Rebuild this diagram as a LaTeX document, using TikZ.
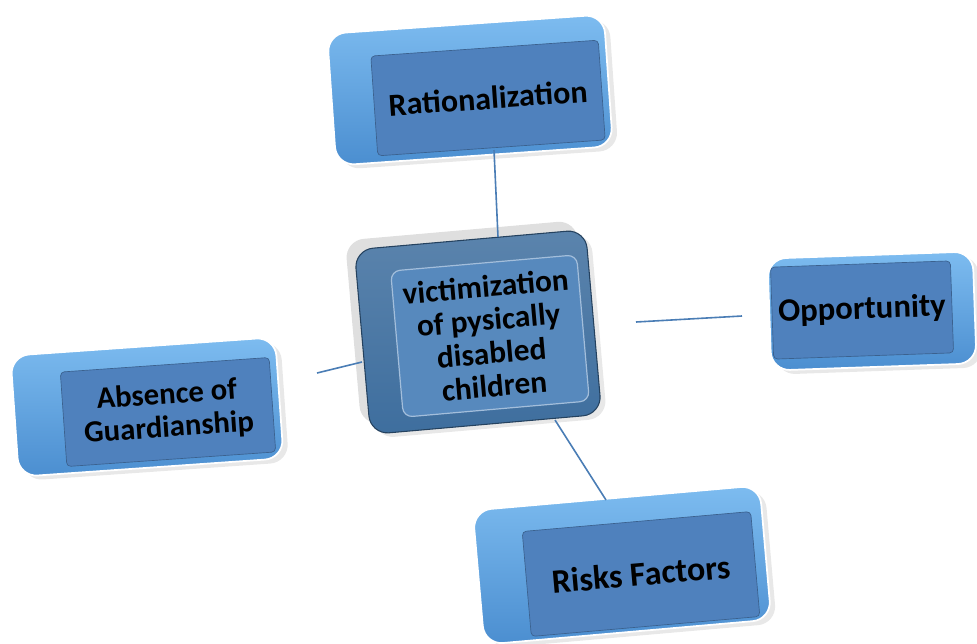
\documentclass[tikz,border=0pt]{standalone}
\usepackage{fontspec}
\setmainfont{Carlito}
\usetikzlibrary{shadows}
\definecolor{facebl}{HTML}{4F81BD}
\definecolor{bevtop}{HTML}{7DBCF0}
\definecolor{bevbot}{HTML}{4B8ED0}
\definecolor{hubbody}{HTML}{3E6E9E}
\definecolor{hubface}{HTML}{5789BD}
\definecolor{linebl}{HTML}{4A7DB5}
\tikzset{
  body/.style={rounded corners=14pt, draw=white, line width=1.3pt,
    top color=bevtop, bottom color=bevbot, inner sep=0pt,
    drop shadow={opacity=.18, shadow xshift=4pt, shadow yshift=-3pt}},
  face/.style={fill=facebl, draw=facebl!75!black, line width=.5pt,
    rounded corners=3pt, inner sep=0pt, align=center, text=black,
    font=\fontsize{24}{27}\selectfont\bfseries},
  link/.style={draw=linebl, line width=1.2pt}
}
\begin{document}
\begin{tikzpicture}[x=0.75pt, y=-0.75pt]
  \useasboundingbox (0,0) rectangle (977,643);

  % hub
  \node[body, rounded corners=14pt, top color=hubbody!85, bottom color=hubbody,
    draw=hubbody!60!black, line width=.8pt,
    drop shadow={opacity=.25, shadow xshift=-7pt, shadow yshift=7pt},
    minimum width=174pt, minimum height=139pt, rotate=5] (hubbody) at (478,332) {};
  \node[face, fill=hubface, draw=white!45!hubface, line width=.9pt, rounded corners=7pt,
    minimum width=140pt, minimum height=110pt, rotate=5,
    font=\fontsize{23.5}{25}\selectfont\bfseries] (hub) at (490,336)
    {victimization\\of pysically\\disabled\\children};

  % rationalization
  \node[body, minimum width=208pt, minimum height=99pt, rotate=4] (ratbody) at (470,90) {};
  \node[face, minimum width=171pt, minimum height=75pt, rotate=4] (rat) at (488,98) {Rationalization};

  % opportunity
  \node[body, minimum width=154pt, minimum height=84pt, rotate=2] (oppbody) at (872,311) {};
  \node[face, minimum width=135pt, minimum height=69pt, rotate=2,
    font=\fontsize{24.5}{27}\selectfont\bfseries] (opp) at (862,310) {Opportunity};

  % absence
  \node[body, minimum width=199pt, minimum height=91pt, rotate=4] (absbody) at (147,407) {};
  \node[face, minimum width=157pt, minimum height=71pt, rotate=4,
    font=\fontsize{23}{25}\selectfont\bfseries] (abs) at (168,412) {Absence of\\Guardianship};

  % risks
  \node[body, minimum width=216pt, minimum height=101pt, rotate=5] (riskbody) at (622,565) {};
  \node[face, minimum width=172pt, minimum height=79pt, rotate=5,
    font=\fontsize{25.5}{28}\selectfont\bfseries] (risk) at (641,574) {Risks Factors};

  % connector ends
  \coordinate (ratfoot) at (494,150);
  \coordinate (hubtop) at (498,237);
  \coordinate (hubright) at (636,322);
  \coordinate (oppleft) at (742,316);
  \coordinate (hubleft) at (362,362);
  \coordinate (absright) at (317,373);
  \coordinate (hubfoot) at (555,420);
  \coordinate (risktop) at (606,500);

  \draw[link] (ratfoot) -- (hubtop);
  \draw[link] (hubright) -- (oppleft);
  \draw[link] (hubleft) -- (absright);
  \draw[link] (hubfoot) -- (risktop);
\end{tikzpicture}
\end{document}
